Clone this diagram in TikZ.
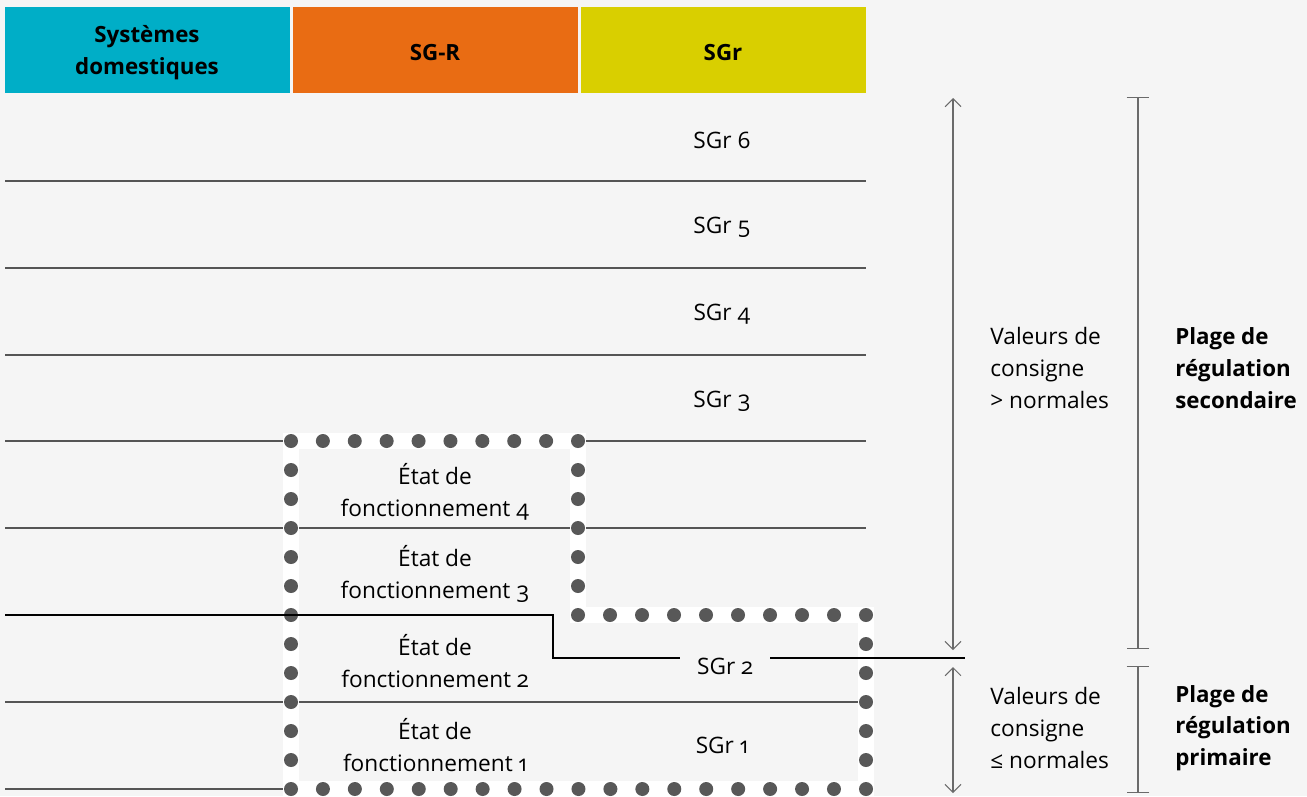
\documentclass[tikz,border=0pt]{standalone}
\usepackage{fontspec}
\setmainfont{Open Sans}[Numbers=OldStyle]
\usetikzlibrary{arrows.meta}
\definecolor{pagebg}{HTML}{F5F5F5}
\definecolor{hdteal}{HTML}{00AEC7}
\definecolor{hdorange}{HTML}{E96C13}
\definecolor{hdyellow}{HTML}{D9CF00}
\definecolor{linegray}{HTML}{555555}
\definecolor{dotgray}{HTML}{585858}
\definecolor{arrowgray}{HTML}{6A6A6A}
\tikzset{
  label text/.style={font=\fontsize{12.9}{18.1}\selectfont, align=center, inner sep=0pt},
  head text/.style={font=\fontsize{12.7}{18.1}\selectfont\bfseries, align=center, inner sep=0pt},
  side text/.style={font=\fontsize{12.9}{18.1}\selectfont, align=left, anchor=west, inner sep=0pt},
  side head/.style={font=\fontsize{12.7}{18.1}\selectfont\bfseries, align=left, anchor=west, inner sep=0pt},
  grid line/.style={draw=linegray, line width=0.75pt},
  split line/.style={draw=black, line width=1.4pt},
  band/.style={draw=white, line width=9pt},
  dot/.style={fill=dotgray},
  span arrow/.style={draw=arrowgray, line width=0.6pt,
    {Straight Barb[length=4.5pt,width=9pt]}-{Straight Barb[length=4.5pt,width=9pt]}},
  span bar/.style={draw=arrowgray, line width=0.6pt, {Bar[width=13pt]}-{Bar[width=13pt]}}
}
\begin{document}
\begin{tikzpicture}[x=0.02cm,y=-0.02cm]
	\useasboundingbox (0,0) rectangle (1307,796);
	\fill[pagebg] (0,0) rectangle (1307,796);
	% headers
	\fill[hdteal] (5,7) rectangle (290,93);
	\fill[hdorange] (293,7) rectangle (578,93);
	\fill[hdyellow] (581,7) rectangle (866,93);
	\node[head text] (dom) at (147,53) {Systèmes\\domestiques};
	\node[head text] (sgrr) at (435,53) {SG-R};
	\node[head text] (sgr) at (723,53) {SGr};
	% rows
	\foreach \y in {181,268,355,441,528,702,789}
		\draw[grid line] (5,\y) -- (866,\y);
	\node[label text] (sgr6) at (722,140) {SGr 6};
	\node[label text] (sgr5) at (722,227) {SGr 5};
	\node[label text] (sgr4) at (722,314) {SGr 4};
	\node[label text] (sgr3) at (722,401) {SGr 3};
	\node[label text] (sgr2) at (725,666) {SGr 2};
	\node[label text] (sgr1) at (722,745) {SGr 1};
	% dotted outline
	\draw[band] (291,441) -- (578,441) -- (578,615) -- (866,615) -- (866,789) -- (291,789) -- cycle;
	\foreach \i in {0,...,9} \fill[dot] (291+\i*31.89,441) circle (7);
	\foreach \i in {1,...,12} \fill[dot] (291,441+\i*29) circle (7);
	\foreach \i in {1,...,5} \fill[dot] (578,441+\i*29) circle (7);
	\foreach \i in {0,...,9} \fill[dot] (578+\i*32,615) circle (7);
	\foreach \i in {1,...,6} \fill[dot] (866,615+\i*29) circle (7);
	\foreach \i in {1,...,17} \fill[dot] (291+\i*31.94,789) circle (7);
	\node[label text] (etat4) at (435,492) {État de\\fonctionnement 4};
	\node[label text] (etat3) at (435,574) {État de\\fonctionnement 3};
	\node[label text] (etat2) at (435,661) {État de\\fonctionnement 2};
	\node[label text] (etat1) at (435,745) {État de\\fonctionnement 1};
	% limit between primary and secondary
	\coordinate (split west) at (5,615);
	\coordinate (split step) at (553,615);
	\coordinate (gap west) at (680,658);
	\coordinate (gap east) at (770,658);
	\coordinate (split east) at (965,658);
	\draw[split line] (split west) -- (split step) |- (gap west);
	\draw[split line] (gap east) -- (split east);
	% ranges
	\coordinate (sec top) at (953,98);
	\coordinate (sec bot) at (953,650);
	\coordinate (pri top) at (953,667);
	\coordinate (pri bot) at (953,793);
	\draw[span arrow] (sec top) -- (sec bot);
	\draw[span arrow] (pri top) -- (pri bot);
	\coordinate (secbar top) at (1138,97);
	\coordinate (secbar bot) at (1138,649);
	\coordinate (pribar top) at (1138,666);
	\coordinate (pribar bot) at (1138,793);
	\draw[span bar] (secbar top) -- (secbar bot);
	\draw[span bar] (pribar top) -- (pribar bot);
	\node[side text] (secval) at (990,368) {Valeurs de\\consigne\\> normales};
	\node[side head] (secplage) at (1175,368) {Plage de\\régulation\\secondaire};
	\node[side text] (prival) at (990,728) {Valeurs de\\consigne\\≤ normales};
	\node[side head] (priplage) at (1175,728) {Plage de\\régulation\\primaire};
\end{tikzpicture}
\end{document}
